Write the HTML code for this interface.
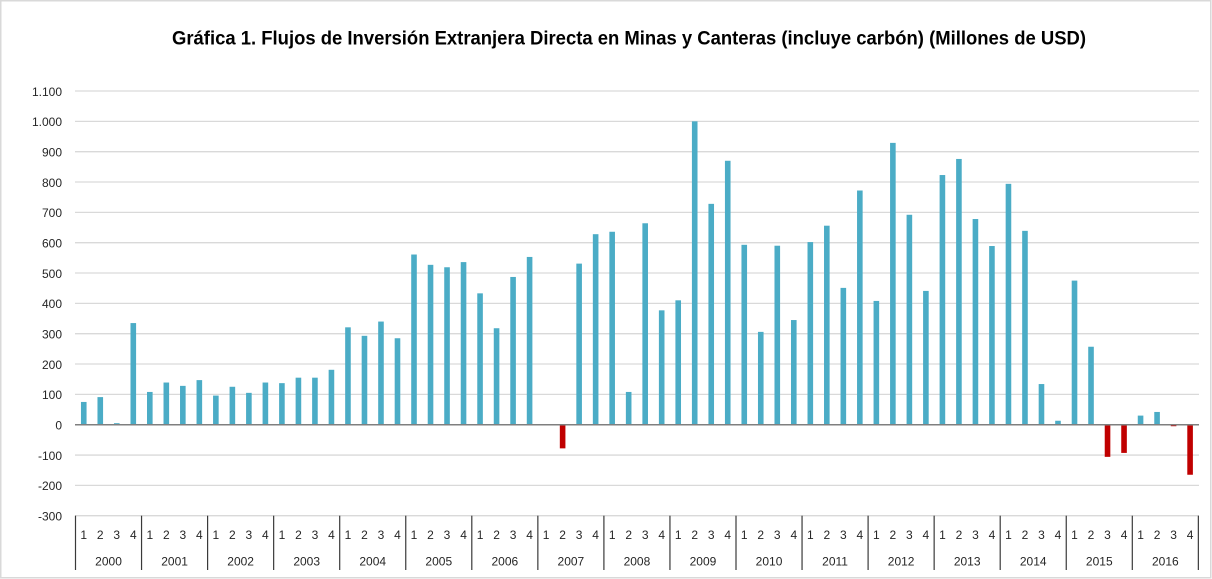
<!DOCTYPE html>
<html>
<head>
<meta charset="utf-8">
<style>
  html, body { margin: 0; padding: 0; background: #ffffff; }
  body { width: 1212px; height: 579px; overflow: hidden; }
  svg { display: block; }
  .yl { font-family: "Liberation Sans", Arial, sans-serif; font-size: 12px; fill: #262626; text-anchor: end; }
  .xl { font-family: "Liberation Sans", Arial, sans-serif; font-size: 12px; fill: #262626; text-anchor: middle; }
</style>
</head>
<body>
<svg width="1212" height="579" viewBox="0 0 1212 579" xmlns="http://www.w3.org/2000/svg">
  <rect x="0" y="0" width="1212" height="579" fill="#ffffff"/>
  <rect x="0.75" y="0.75" width="1210" height="577" fill="none" stroke="#d9d9d9" stroke-width="1.5"/>

  <!-- Title -->
  <text x="172" y="44.5" font-family="'Liberation Sans', Arial, sans-serif" font-weight="bold" font-size="19.5" fill="#000" textLength="914" lengthAdjust="spacingAndGlyphs">Gráfica 1. Flujos de Inversión Extranjera Directa en Minas y Canteras (incluye carbón) (Millones de USD)</text>

  <!-- Gridlines -->
  <g stroke="#d9d9d9" stroke-width="1.3">
    <line x1="75" x2="1199" y1="91.0" y2="91.0"/>
    <line x1="75" x2="1199" y1="121.34" y2="121.34"/>
    <line x1="75" x2="1199" y1="151.68" y2="151.68"/>
    <line x1="75" x2="1199" y1="182.01" y2="182.01"/>
    <line x1="75" x2="1199" y1="212.35" y2="212.35"/>
    <line x1="75" x2="1199" y1="242.68" y2="242.68"/>
    <line x1="75" x2="1199" y1="273.02" y2="273.02"/>
    <line x1="75" x2="1199" y1="303.35" y2="303.35"/>
    <line x1="75" x2="1199" y1="333.69" y2="333.69"/>
    <line x1="75" x2="1199" y1="364.02" y2="364.02"/>
    <line x1="75" x2="1199" y1="394.36" y2="394.36"/>
    <line x1="75" x2="1199" y1="455.04" y2="455.04"/>
    <line x1="75" x2="1199" y1="485.37" y2="485.37"/>
    <line x1="75" x2="1199" y1="515.71" y2="515.71"/>
  </g>

  <!-- Y labels -->
  <g class="yl">
    <text x="62" y="95.8">1.100</text>
    <text x="62" y="126.1">1.000</text>
    <text x="62" y="156.5">900</text>
    <text x="62" y="186.8">800</text>
    <text x="62" y="217.1">700</text>
    <text x="62" y="247.5">600</text>
    <text x="62" y="277.8">500</text>
    <text x="62" y="308.1">400</text>
    <text x="62" y="338.5">300</text>
    <text x="62" y="368.8">200</text>
    <text x="62" y="399.2">100</text>
    <text x="62" y="429.5">0</text>
    <text x="62" y="459.8">-100</text>
    <text x="62" y="490.2">-200</text>
    <text x="62" y="520.5">-300</text>
  </g>

  <!-- Bars -->
  <g transform="translate(0,424.7) scale(1,-0.30336)">
    <g fill="#4bacc6">
      <!-- 2000 -->
      <rect x="80.96" y="0" width="5.6" height="75"/>
      <rect x="97.47" y="0" width="5.6" height="91"/>
      <rect x="113.98" y="0" width="5.6" height="5"/>
      <rect x="130.49" y="0" width="5.6" height="335"/>
      <!-- 2001 -->
      <rect x="147.01" y="0" width="5.6" height="108"/>
      <rect x="163.52" y="0" width="5.6" height="139"/>
      <rect x="180.03" y="0" width="5.6" height="128"/>
      <rect x="196.54" y="0" width="5.6" height="147"/>
      <!-- 2002 -->
      <rect x="213.06" y="0" width="5.6" height="96"/>
      <rect x="229.57" y="0" width="5.6" height="125"/>
      <rect x="246.08" y="0" width="5.6" height="105"/>
      <rect x="262.59" y="0" width="5.6" height="139"/>
      <!-- 2003 -->
      <rect x="279.11" y="0" width="5.6" height="137"/>
      <rect x="295.62" y="0" width="5.6" height="155"/>
      <rect x="312.13" y="0" width="5.6" height="155"/>
      <rect x="328.64" y="0" width="5.6" height="181"/>
      <!-- 2004 -->
      <rect x="345.16" y="0" width="5.6" height="321"/>
      <rect x="361.67" y="0" width="5.6" height="293"/>
      <rect x="378.18" y="0" width="5.6" height="340"/>
      <rect x="394.69" y="0" width="5.6" height="285"/>
      <!-- 2005 -->
      <rect x="411.21" y="0" width="5.6" height="561"/>
      <rect x="427.72" y="0" width="5.6" height="527"/>
      <rect x="444.23" y="0" width="5.6" height="519"/>
      <rect x="460.74" y="0" width="5.6" height="536"/>
      <!-- 2006 -->
      <rect x="477.26" y="0" width="5.6" height="433"/>
      <rect x="493.77" y="0" width="5.6" height="318"/>
      <rect x="510.28" y="0" width="5.6" height="487"/>
      <rect x="526.79" y="0" width="5.6" height="553"/>
      <!-- 2007 -->
      <rect x="576.33" y="0" width="5.6" height="531"/>
      <rect x="592.84" y="0" width="5.6" height="628"/>
      <!-- 2008 -->
      <rect x="609.36" y="0" width="5.6" height="636"/>
      <rect x="625.87" y="0" width="5.6" height="108"/>
      <rect x="642.38" y="0" width="5.6" height="664"/>
      <rect x="658.89" y="0" width="5.6" height="377"/>
      <!-- 2009 -->
      <rect x="675.41" y="0" width="5.6" height="410"/>
      <rect x="691.92" y="0" width="5.6" height="1000"/>
      <rect x="708.43" y="0" width="5.6" height="728"/>
      <rect x="724.94" y="0" width="5.6" height="870"/>
      <!-- 2010 -->
      <rect x="741.46" y="0" width="5.6" height="593"/>
      <rect x="757.97" y="0" width="5.6" height="306"/>
      <rect x="774.48" y="0" width="5.6" height="590"/>
      <rect x="790.99" y="0" width="5.6" height="345"/>
      <!-- 2011 -->
      <rect x="807.51" y="0" width="5.6" height="602"/>
      <rect x="824.02" y="0" width="5.6" height="656"/>
      <rect x="840.53" y="0" width="5.6" height="451"/>
      <rect x="857.04" y="0" width="5.6" height="772"/>
      <!-- 2012 -->
      <rect x="873.56" y="0" width="5.6" height="408"/>
      <rect x="890.07" y="0" width="5.6" height="929"/>
      <rect x="906.58" y="0" width="5.6" height="692"/>
      <rect x="923.09" y="0" width="5.6" height="441"/>
      <!-- 2013 -->
      <rect x="939.61" y="0" width="5.6" height="823"/>
      <rect x="956.12" y="0" width="5.6" height="876"/>
      <rect x="972.63" y="0" width="5.6" height="678"/>
      <rect x="989.14" y="0" width="5.6" height="589"/>
      <!-- 2014 -->
      <rect x="1005.66" y="0" width="5.6" height="794"/>
      <rect x="1022.17" y="0" width="5.6" height="639"/>
      <rect x="1038.68" y="0" width="5.6" height="134"/>
      <rect x="1055.19" y="0" width="5.6" height="13"/>
      <!-- 2015 -->
      <rect x="1071.71" y="0" width="5.6" height="475"/>
      <rect x="1088.22" y="0" width="5.6" height="257"/>
      <!-- 2016 -->
      <rect x="1137.76" y="0" width="5.6" height="30"/>
      <rect x="1154.27" y="0" width="5.6" height="42"/>
    </g>
    <g fill="#c00000">
      <rect x="559.82" y="-78" width="5.6" height="78"/>
      <rect x="1104.73" y="-106" width="5.6" height="106"/>
      <rect x="1121.24" y="-93" width="5.6" height="93"/>
      <rect x="1170.78" y="-5" width="5.6" height="5"/>
      <rect x="1187.29" y="-165" width="5.6" height="165"/>
    </g>
  </g>

  <!-- Zero axis -->
  <line x1="75" x2="1199" y1="424.7" y2="424.7" stroke="#7f7f7f" stroke-width="1.5"/>

  <!-- Category axis separators -->
  <g stroke="#3a3a3a" stroke-width="1.2">
    <line x1="75.5" x2="75.5" y1="515.7" y2="570"/>
    <line x1="141.55" x2="141.55" y1="515.7" y2="570"/>
    <line x1="207.6" x2="207.6" y1="515.7" y2="570"/>
    <line x1="273.65" x2="273.65" y1="515.7" y2="570"/>
    <line x1="339.7" x2="339.7" y1="515.7" y2="570"/>
    <line x1="405.75" x2="405.75" y1="515.7" y2="570"/>
    <line x1="471.8" x2="471.8" y1="515.7" y2="570"/>
    <line x1="537.85" x2="537.85" y1="515.7" y2="570"/>
    <line x1="603.9" x2="603.9" y1="515.7" y2="570"/>
    <line x1="669.95" x2="669.95" y1="515.7" y2="570"/>
    <line x1="736.0" x2="736.0" y1="515.7" y2="570"/>
    <line x1="802.05" x2="802.05" y1="515.7" y2="570"/>
    <line x1="868.1" x2="868.1" y1="515.7" y2="570"/>
    <line x1="934.15" x2="934.15" y1="515.7" y2="570"/>
    <line x1="1000.2" x2="1000.2" y1="515.7" y2="570"/>
    <line x1="1066.25" x2="1066.25" y1="515.7" y2="570"/>
    <line x1="1132.3" x2="1132.3" y1="515.7" y2="570"/>
    <line x1="1198.35" x2="1198.35" y1="515.7" y2="570"/>
  </g>

  <!-- Quarter labels -->
  <g class="xl">
    <text x="83.76" y="539">1</text><text x="100.27" y="539">2</text><text x="116.78" y="539">3</text><text x="133.29" y="539">4</text>
    <text x="149.81" y="539">1</text><text x="166.32" y="539">2</text><text x="182.83" y="539">3</text><text x="199.34" y="539">4</text>
    <text x="215.86" y="539">1</text><text x="232.37" y="539">2</text><text x="248.88" y="539">3</text><text x="265.39" y="539">4</text>
    <text x="281.91" y="539">1</text><text x="298.42" y="539">2</text><text x="314.93" y="539">3</text><text x="331.44" y="539">4</text>
    <text x="347.96" y="539">1</text><text x="364.47" y="539">2</text><text x="380.98" y="539">3</text><text x="397.49" y="539">4</text>
    <text x="414.01" y="539">1</text><text x="430.52" y="539">2</text><text x="447.03" y="539">3</text><text x="463.54" y="539">4</text>
    <text x="480.06" y="539">1</text><text x="496.57" y="539">2</text><text x="513.08" y="539">3</text><text x="529.59" y="539">4</text>
    <text x="546.11" y="539">1</text><text x="562.62" y="539">2</text><text x="579.13" y="539">3</text><text x="595.64" y="539">4</text>
    <text x="612.16" y="539">1</text><text x="628.67" y="539">2</text><text x="645.18" y="539">3</text><text x="661.69" y="539">4</text>
    <text x="678.21" y="539">1</text><text x="694.72" y="539">2</text><text x="711.23" y="539">3</text><text x="727.74" y="539">4</text>
    <text x="744.26" y="539">1</text><text x="760.77" y="539">2</text><text x="777.28" y="539">3</text><text x="793.79" y="539">4</text>
    <text x="810.31" y="539">1</text><text x="826.82" y="539">2</text><text x="843.33" y="539">3</text><text x="859.84" y="539">4</text>
    <text x="876.36" y="539">1</text><text x="892.87" y="539">2</text><text x="909.38" y="539">3</text><text x="925.89" y="539">4</text>
    <text x="942.41" y="539">1</text><text x="958.92" y="539">2</text><text x="975.43" y="539">3</text><text x="991.94" y="539">4</text>
    <text x="1008.46" y="539">1</text><text x="1024.97" y="539">2</text><text x="1041.48" y="539">3</text><text x="1057.99" y="539">4</text>
    <text x="1074.51" y="539">1</text><text x="1091.02" y="539">2</text><text x="1107.53" y="539">3</text><text x="1124.04" y="539">4</text>
    <text x="1140.56" y="539">1</text><text x="1157.07" y="539">2</text><text x="1173.58" y="539">3</text><text x="1190.09" y="539">4</text>
  </g>

  <!-- Year labels -->
  <g class="xl">
    <text x="108.53" y="565.5">2000</text>
    <text x="174.58" y="565.5">2001</text>
    <text x="240.63" y="565.5">2002</text>
    <text x="306.68" y="565.5">2003</text>
    <text x="372.73" y="565.5">2004</text>
    <text x="438.78" y="565.5">2005</text>
    <text x="504.83" y="565.5">2006</text>
    <text x="570.88" y="565.5">2007</text>
    <text x="636.93" y="565.5">2008</text>
    <text x="702.98" y="565.5">2009</text>
    <text x="769.03" y="565.5">2010</text>
    <text x="835.08" y="565.5">2011</text>
    <text x="901.13" y="565.5">2012</text>
    <text x="967.18" y="565.5">2013</text>
    <text x="1033.23" y="565.5">2014</text>
    <text x="1099.28" y="565.5">2015</text>
    <text x="1165.33" y="565.5">2016</text>
  </g>
</svg>
</body>
</html>
